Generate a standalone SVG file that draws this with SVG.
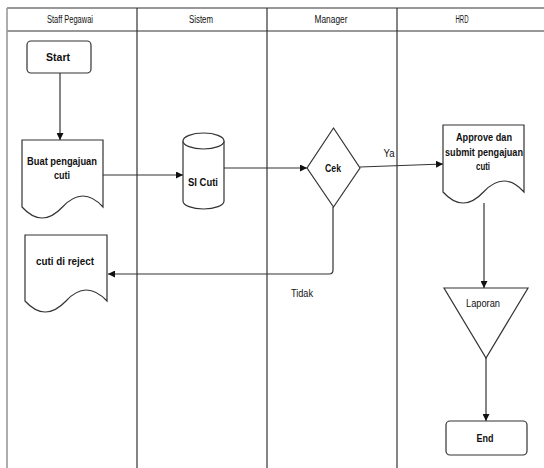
<svg xmlns="http://www.w3.org/2000/svg" width="544" height="468" viewBox="0 0 544 468">
<style>
.lane{fill:none;stroke:#333;stroke-width:1.2}
.shape{fill:#fff;stroke:#333;stroke-width:1.2}
.conn{fill:none;stroke:#333;stroke-width:1.2}
text{font-family:"Liberation Sans",Arial,sans-serif;fill:#111;text-anchor:middle}
.h{font-size:10px}
.b{font-size:10px;font-weight:bold}
.n{font-size:10px}
</style>
<defs>
<marker id="arr" viewBox="0 0 10 10" refX="10" refY="5" markerWidth="7" markerHeight="7" markerUnits="userSpaceOnUse" orient="auto">
<path d="M0,0 L10,5 L0,10 Z" fill="#111"/>
</marker>
</defs>
<rect width="544" height="468" fill="#fff"/>
<g id="lanes">
<line class="lane" x1="7" y1="8" x2="544" y2="8"/>
<line class="lane" x1="7" y1="31" x2="544" y2="31"/>
<line class="lane" x1="7" y1="8" x2="7" y2="468" style="stroke:#999;stroke-width:1.6"/>
<line class="lane" x1="137" y1="8" x2="137" y2="468"/>
<line class="lane" x1="267" y1="8" x2="267" y2="468"/>
<line class="lane" x1="397" y1="8" x2="397" y2="468"/>
<text class="h" x="70" y="23" textLength="46" lengthAdjust="spacingAndGlyphs">Staff Pegawai</text>
<text class="h" x="201" y="23" textLength="24" lengthAdjust="spacingAndGlyphs">Sistem</text>
<text class="h" x="331" y="23" textLength="33" lengthAdjust="spacingAndGlyphs">Manager</text>
<text class="h" x="462" y="23" textLength="13" lengthAdjust="spacingAndGlyphs">HRD</text>
</g>
<g id="connectors">
<line class="conn" x1="60" y1="73" x2="60" y2="140" marker-end="url(#arr)"/>
<line class="conn" x1="103" y1="175" x2="183" y2="175" marker-end="url(#arr)"/>
<line class="conn" x1="224" y1="168" x2="307" y2="168" marker-end="url(#arr)"/>
<line class="conn" x1="360" y1="167" x2="443" y2="164" marker-end="url(#arr)"/>
<path class="conn" d="M333,207 V270 Q333,274 329,274 H108" marker-end="url(#arr)"/>
<line class="conn" x1="484" y1="203" x2="484" y2="288" marker-end="url(#arr)"/>
<line class="conn" x1="486" y1="358" x2="486" y2="421" marker-end="url(#arr)"/>
<text class="n" x="389" y="157" textLength="11" lengthAdjust="spacingAndGlyphs">Ya</text>
<text class="n" x="302" y="297" textLength="22" lengthAdjust="spacingAndGlyphs">Tidak</text>
</g>
<g id="start">
<rect class="shape" x="27" y="41" width="64" height="32" rx="4"/>
<text class="b" x="58" y="61" textLength="24" lengthAdjust="spacingAndGlyphs">Start</text>
</g>
<g id="buat">
<path class="shape" d="M22,140 H103 V207 Q83,185 62.5,207 Q42,229 22,207 Z"/>
<text class="b" x="62" y="165" textLength="70" lengthAdjust="spacingAndGlyphs">Buat pengajuan</text>
<text class="b" x="62" y="179" textLength="16" lengthAdjust="spacingAndGlyphs">cuti</text>
</g>
<g id="sicuti">
<path class="shape" d="M183,141 A20.5,8 0 0 1 224,141 V201 A20.5,8 0 0 1 183,201 Z"/>
<path class="shape" d="M183,141 A20.5,8 0 0 0 224,141" fill="none"/>
<text class="b" x="203" y="186" textLength="30" lengthAdjust="spacingAndGlyphs">SI Cuti</text>
</g>
<g id="cek">
<path class="shape" d="M333.5,128 L360,168 L333.5,207 L307,168 Z"/>
<text class="b" x="333" y="172" textLength="16" lengthAdjust="spacingAndGlyphs">Cek</text>
</g>
<g id="reject">
<path class="shape" d="M25,235 H107 V301 Q86,279 66,301 Q45,323 25,301 Z"/>
<text class="b" x="65" y="265" textLength="58" lengthAdjust="spacingAndGlyphs">cuti di reject</text>
</g>
<g id="approve">
<path class="shape" d="M443,125 H524 V192 Q504,170 483.5,192 Q463,214 443,192 Z"/>
<text class="b" x="484" y="141" textLength="56" lengthAdjust="spacingAndGlyphs">Approve dan</text>
<text class="b" x="484" y="156" textLength="78" lengthAdjust="spacingAndGlyphs">submit pengajuan</text>
<text class="b" x="483" y="170" textLength="14" lengthAdjust="spacingAndGlyphs">cuti</text>
</g>
<g id="laporan">
<path class="shape" d="M444,288 H528 L486,358 Z"/>
<text class="n" x="483" y="307" textLength="34" lengthAdjust="spacingAndGlyphs">Laporan</text>
</g>
<g id="end">
<rect class="shape" x="446" y="421" width="81" height="34" rx="4"/>
<text class="b" x="485" y="442" textLength="17" lengthAdjust="spacingAndGlyphs">End</text>
</g>
</svg>
